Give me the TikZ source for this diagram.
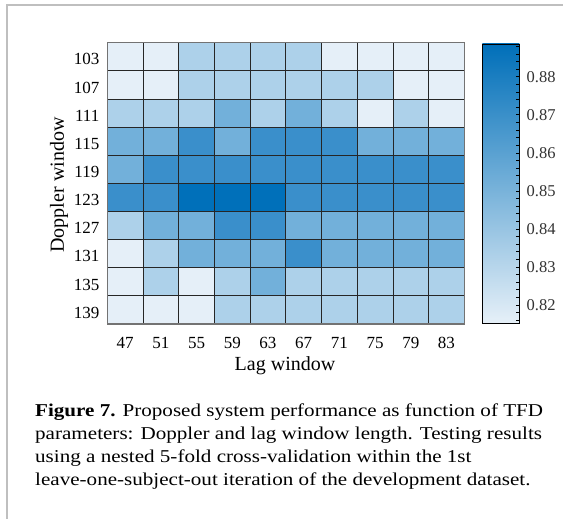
\documentclass[tikz,border=0pt]{standalone}
\usepackage{fontspec}
\setmainfont{Liberation Serif}
\newfontfamily\capfont{Liberation Serif}[FakeStretch=1.165]
\definecolor{cL}{HTML}{E5EFF8}
\definecolor{cB}{HTML}{ADD1EA}
\definecolor{cM}{HTML}{72B0DA}
\definecolor{cD}{HTML}{3A8FCB}
\definecolor{cX}{HTML}{0070BA}
\definecolor{cbLow}{HTML}{E6F0F8}
\definecolor{cbHigh}{HTML}{006FB9}
\begin{document}
\begin{tikzpicture}[x=1pt,y=-1pt,
  ticklab/.style={inner sep=0pt,font=\fontsize{17}{20}\selectfont},
  cblab/.style={inner sep=0pt,anchor=base west,font=\fontsize{16.5}{20}\selectfont,text=black!80},
  axlab/.style={inner sep=0pt,font=\fontsize{20}{24}\selectfont},
  caplab/.style={inner sep=0pt,anchor=base west,font=\capfont\fontsize{18.1}{22}\selectfont},
  gridline/.style={draw=black!85,line width=0.8pt},
  framegray/.style={draw=black!55,line width=1.2pt}]
\useasboundingbox (0,0) rectangle (563,519);
% page frame
\draw[black!25,line width=1.5pt] (7,519) -- (7,5) -- (563,5);
% heat map
\def\gx{107.3}\def\gy{42.7}\def\cw{35.7}\def\ch{28.13}
\foreach \row [count=\r from 0] in {
  {L,L,B,B,B,B,L,L,L,L},
  {L,L,B,B,B,B,B,B,L,L},
  {B,B,B,M,B,M,B,L,B,L},
  {M,M,D,M,D,D,D,M,M,M},
  {M,D,D,D,D,D,D,D,D,D},
  {D,D,X,X,X,D,D,D,D,D},
  {B,M,M,D,D,M,M,M,M,M},
  {L,B,M,M,M,D,M,M,M,M},
  {L,B,L,B,M,B,B,B,B,B},
  {L,L,L,B,B,B,B,B,B,B}} {
  \foreach \c [count=\k from 0] in \row {
    \fill[c\c] ({\gx+\k*\cw},{\gy+\r*\ch}) rectangle ++(\cw,\ch);
  }
}
\foreach \i in {1,...,9} {
  \draw[gridline] ({\gx+\i*\cw},\gy) -- ++(0,{10*\ch});
  \draw[gridline] (\gx,{\gy+\i*\ch}) -- ++({10*\cw},0);
}
\draw[framegray] (\gx,\gy) rectangle ++({10*\cw},{10*\ch});
% row labels
\foreach \lab [count=\r from 0] in {103,107,111,115,119,123,127,131,135,139}
  \node[ticklab,anchor=base east] (row\lab) at (99.5,{\gy+\r*\ch+22.3}) {\lab};
% column labels
\foreach \lab [count=\k from 0] in {47,51,55,59,63,67,71,75,79,83}
  \node[ticklab,anchor=base] (col\lab) at ({\gx+(\k+0.5)*\cw},348.3) {\lab};
% axis labels
\node[axlab,rotate=90] (ylab) at (59,185) {Doppler window};
\node[axlab] (xlab) at (285,366) {Lag window};
% colour bar
\shade[bottom color=cbLow,top color=cbHigh] (482.3,44) rectangle (519.3,323.3);
\draw[black,line width=0.9pt] (482.3,44) rectangle (519.3,323.3);
\foreach \v in {816,818,...,888}
  \draw[black,line width=0.6pt] (519.3,{305-(\v-820)*3.805}) -- ++(-3.5,0);
\foreach \v in {82,...,88}
  \node[cblab] (cb\v) at (526.5,{305-(\v-82)*38.05+5.6}) {0.\v};
% caption
\node[caplab] (cap1) at (35,416.7) {\textbf{Figure 7.} Proposed system performance as function of TFD};
\node[caplab] (cap2) at (35,439.5) {parameters: Doppler and lag window length. Testing results};
\node[caplab] (cap3) at (35,462.3) {using a nested 5-fold cross-validation within the 1st};
\node[caplab] (cap4) at (35,485) {leave-one-subject-out iteration of the development dataset.};
\end{tikzpicture}
\end{document}
